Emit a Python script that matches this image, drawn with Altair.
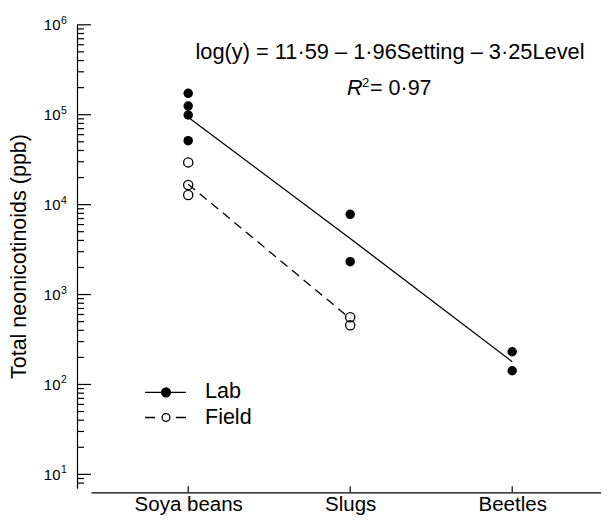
import json
import altair as alt
import pandas as pd

# ---------------- data ----------------
categories = ["Soya beans", "Slugs", "Beetles"]

lab_soya = [173000, 125000, 99300, 51400]
lab_slugs = [7800, 2320]
lab_beetles = [231, 142]

field_soya = [29500, 16500, 12800]
field_slugs = [560, 455]

lab_fit = [93600, 4200, 179]      # fitted line, Soya beans -> Beetles
field_fit = [16900, 541]          # fitted line, Soya beans -> Slugs

major_ticks = [10, 100, 1000, 10000, 100000, 1000000]
exponents = ["1", "2", "3", "4", "5", "6"]
minor_ticks = [8, 9] + [m * 10 ** k for k in range(1, 6) for m in range(2, 10)]

equation = "log(y) = 11·59 – 1·96Setting – 3·25Level"
r2_symbol = "R"
r2_power = "2"
r2_value = "= 0·97"
y_title = "Total neonicotinoids (ppb)"
legend_labels = ["Lab", "Field"]

# ---------------- tables ----------------
pos = {c: i + 1 for i, c in enumerate(categories)}
lab_pts = pd.DataFrame(
    {"x": [pos["Soya beans"]] * len(lab_soya) + [pos["Slugs"]] * len(lab_slugs) + [pos["Beetles"]] * len(lab_beetles),
     "v": lab_soya + lab_slugs + lab_beetles})
field_pts = pd.DataFrame(
    {"x": [pos["Soya beans"]] * len(field_soya) + [pos["Slugs"]] * len(field_slugs),
     "v": field_soya + field_slugs})
lab_line = pd.DataFrame({"x": [1, 2, 3], "v": lab_fit})
field_line = pd.DataFrame({"x": [1, 2], "v": field_fit})
majors = pd.DataFrame({"v": major_ticks, "e": exponents})
minors = pd.DataFrame({"v": minor_ticks})
xticks = pd.DataFrame({"x": [pos[c] for c in categories]})
one = pd.DataFrame({"k": [0]})

W = 510
H = 463.5
FONT = "Liberation Sans"

xscale = alt.Scale(domain=[0.4, 0.4 + W / 162.0], nice=False, zero=False)
yscale = alt.Scale(type="log", domain=[7, 1000000], nice=False)

label_expr = "(" + json.dumps([""] + categories) + ")[datum.value]"

xaxis = alt.Axis(values=[1, 2, 3], labelExpr=label_expr, ticks=False, tickSize=0,
                 offset=4, labelPadding=2, labelFont=FONT, labelFontSize=20.5,
                 labelColor="black", domainColor="black", domainWidth=1.2,
                 grid=False, title=None, labelFlush=False, labelOverlap=False)
yaxis = alt.Axis(values=major_ticks, labelExpr="'10'", ticks=False, tickSize=0,
                 offset=14, labelPadding=17, labelFont=FONT, labelFontSize=15,
                 labelColor="black", domainColor="black", domainWidth=1.2,
                 grid=False, title=None, labelFlush=False, labelOverlap=False)

X = alt.X("x:Q", scale=xscale, axis=xaxis)
Y = alt.Y("v:Q", scale=yscale, axis=yaxis)

lab_points = alt.Chart(lab_pts).mark_point(shape="circle", filled=True, size=90, color="black", opacity=1).encode(
    x=X, y=Y)
field_points = alt.Chart(field_pts).mark_point(shape="circle", filled=False, size=85, color="black",
                                                strokeWidth=1.3, opacity=1).encode(x=X, y=Y)
lab_fit_line = alt.Chart(lab_line).mark_line(color="black", strokeWidth=1.3).encode(x=X, y=Y)
field_fit_line = alt.Chart(field_line).mark_line(color="black", strokeWidth=1.3, strokeDash=[9, 6]).encode(x=X, y=Y)

# inward ticks
major_rules = alt.Chart(majors).mark_rule(color="black", strokeWidth=1.2).encode(
    y=Y, x=alt.value(-14), x2=alt.value(0))
minor_rules = alt.Chart(minors).mark_rule(color="black", strokeWidth=1.2).encode(
    y=Y, x=alt.value(-14), x2=alt.value(-7))
x_rules = alt.Chart(xticks).mark_rule(color="black", strokeWidth=1.2).encode(
    x=X, y=alt.value(H + 4), y2=alt.value(H - 2))

# exponents of the y labels
sups = alt.Chart(majors).mark_text(align="left", baseline="middle", dy=-4, fontSize=10.5,
                                   font=FONT, color="black").encode(
    y=Y, x=alt.value(-30), text="e:N")

def label(text, x, y, size=21, align="left", angle=None, style=None):
    kw = dict(align=align, baseline="middle", fontSize=size, font=FONT, color="black")
    if angle is not None:
        kw["angle"] = angle
    if style is not None:
        kw["fontStyle"] = style
    return alt.Chart(pd.DataFrame({"t": [text]})).mark_text(**kw).encode(
        x=alt.value(x), y=alt.value(y), text="t:N")

title_text = label(y_title, -71, H / 2, size=21.5, align="center", angle=270)
eq_text = label(equation, 299, 27.2, size=21.8, align="center")
r_text = label(r2_symbol, 256, 64.5, size=21.5, style="italic")
p_text = label(r2_power, 271, 58, size=13)
v_text = label(r2_value, 279, 64.5, size=21.5)

# legend
LY1 = 367.5
LY2 = 392.7
leg_lab_line = alt.Chart(one).mark_rule(color="black", strokeWidth=1.3).encode(
    x=alt.value(54), x2=alt.value(95), y=alt.value(LY1))
leg_lab_pt = alt.Chart(one).mark_point(shape="circle", filled=True, size=105, color="black", opacity=1).encode(
    x=alt.value(75), y=alt.value(LY1))
leg_field_line = alt.Chart(one).mark_rule(color="black", strokeWidth=1.3, strokeDash=[10, 21]).encode(
    x=alt.value(54), x2=alt.value(95), y=alt.value(LY2))
leg_field_pt = alt.Chart(one).mark_point(shape="circle", filled=False, size=60, color="black",
                                         strokeWidth=1.3, opacity=1).encode(
    x=alt.value(75), y=alt.value(LY2))
leg_lab_text = label(legend_labels[0], 114, LY1, size=21.5)
leg_field_text = label(legend_labels[1], 114, LY2, size=21.5)

chart = alt.layer(
    lab_points, field_points, lab_fit_line, field_fit_line,
    major_rules, minor_rules, x_rules, sups,
    title_text, eq_text, r_text, p_text, v_text,
    leg_lab_line, leg_lab_pt, leg_field_line, leg_field_pt, leg_lab_text, leg_field_text,
).properties(
    width=W, height=H,
    padding={"left": 83, "top": 16.8, "right": 0, "bottom": 26.7},
    autosize=alt.AutoSizeParams(type="none"),
    background="white",
).configure_view(stroke=None)

chart.save("out.html", embed_options={"renderer": "svg", "actions": False})
